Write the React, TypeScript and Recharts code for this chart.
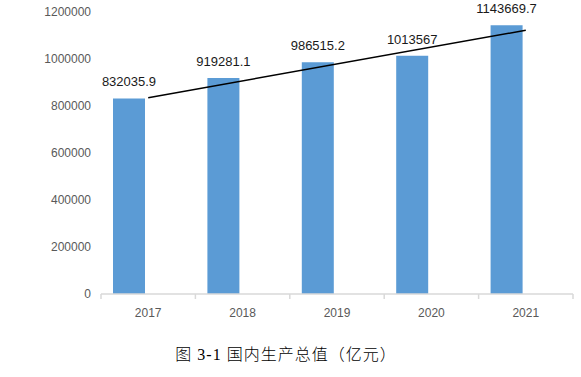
import React from 'react';
import { ComposedChart, Bar, XAxis, YAxis, LabelList, ReferenceLine } from 'recharts';

const years = ['2017', '2018', '2019', '2020', '2021'];
const gdp = [832035.9, 919281.1, 986515.2, 1013567, 1143669.7];
const gdpLabels = ['832035.9', '919281.1', '986515.2', '1013567', '1143669.7'];
const yTicks = [0, 200000, 400000, 600000, 800000, 1000000, 1200000];
const trendStart = 835500;
const trendEnd = 1122500;
const caption = '图 3-1 国内生产总值（亿元）';

const data = years.map((year, i) => ({ year, gdp: gdp[i], label: gdpLabels[i] }));

const W = 581;
const H = 330;
const MARGIN = { top: 12, right: 8, bottom: 6, left: 5 };
const Y_WIDTH = 96;
const BAND = (W - MARGIN.left - Y_WIDTH - MARGIN.right) / years.length;
const FONT = '"Liberation Sans", Arial, sans-serif';

function XTick(props: any) {
  const { x, y, payload, index } = props;
  const half = BAND / 2;
  return (
    <g>
      <line x1={x - half} x2={x - half} y1={y} y2={y + 5} stroke="#d9d9d9" strokeWidth={1.5} />
      {index === years.length - 1 && (
        <line x1={x + half} x2={x + half} y1={y} y2={y + 5} stroke="#d9d9d9" strokeWidth={1.5} />
      )}
      <text x={x} y={y + 23} textAnchor="middle" fill="#595959" fontSize={12} fontFamily={FONT}>
        {payload.value}
      </text>
    </g>
  );
}

export default function App() {
  return (
    <div style={{ position: 'absolute', left: 0, top: 0, width: W, height: 377, background: '#fff' }}>
      <ComposedChart width={W} height={H} data={data} margin={MARGIN} barGap={6}>
        <XAxis
          dataKey="year"
          height={30}
          tickLine={false}
          tickSize={0}
          tickMargin={0}
          axisLine={{ stroke: '#d9d9d9', strokeWidth: 1.5 }}
          tick={<XTick />}
          interval={0}
        />
        <YAxis
          width={Y_WIDTH}
          domain={[0, 1200000]}
          ticks={yTicks}
          axisLine={false}
          tickLine={false}
          tickMargin={4}
          tick={{ fill: '#595959', fontSize: 12, fontFamily: FONT }}
        />
        <Bar dataKey="gdp" fill="#5b9bd5" barSize={32} isAnimationActive={false}>
          <LabelList dataKey="label" position="top" offset={12} fill="#1a1a1a" fontSize={13} fontFamily={FONT} />
        </Bar>
        <Bar dataKey="placeholder" fill="none" barSize={32} isAnimationActive={false} legendType="none" />
        <ReferenceLine
          segment={[
            { x: years[0], y: trendStart },
            { x: years[years.length - 1], y: trendEnd },
          ]}
          stroke="#000"
          strokeWidth={1.5}
        />
      </ComposedChart>
      <div
        style={{
          position: 'absolute',
          left: 0,
          top: 345,
          width: 572,
          textAlign: 'center',
          fontSize: 16,
          lineHeight: '20px',
          letterSpacing: '1px',
          fontFamily: '"Liberation Serif", "Noto Sans CJK SC", serif',
          fontWeight: 300,
          color: '#000',
        }}
      >
        {caption}
      </div>
    </div>
  );
}
